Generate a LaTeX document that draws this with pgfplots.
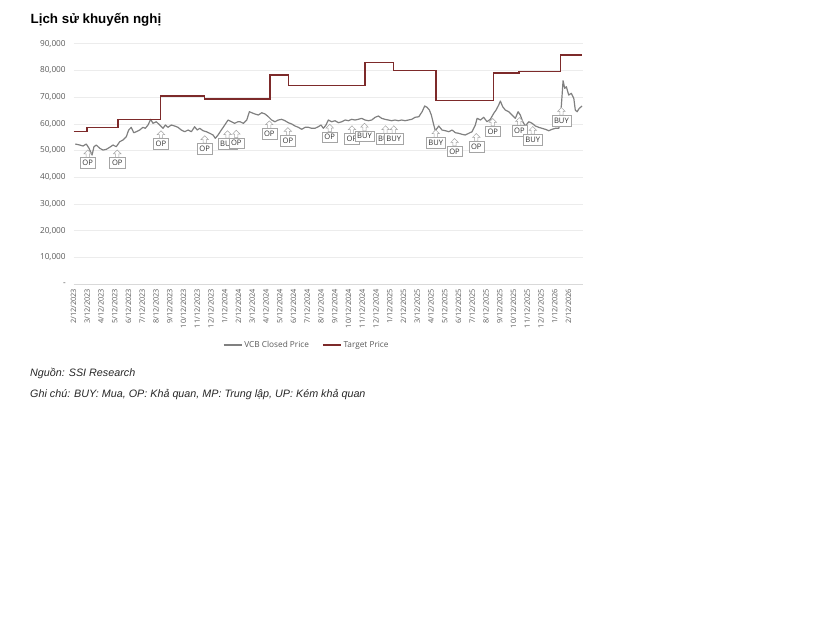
\documentclass[border=0pt]{standalone}
\usepackage{fontspec}
\setmainfont{Open Sans}
\newfontfamily\titlefont{Liberation Sans}
\usepackage{pgfplots}
\pgfplotsset{compat=1.18}
\definecolor{target}{RGB}{125,42,42}
\definecolor{price}{RGB}{128,128,128}
\definecolor{tickc}{RGB}{89,89,89}
\definecolor{gridc}{RGB}{236,236,236}
\definecolor{axisc}{RGB}{217,217,217}
\definecolor{boxc}{RGB}{165,165,165}
\pgfdeclareplotmark{callarrow}{%
  \pgfpathmoveto{\pgfqpoint{0bp}{0bp}}%
  \pgfpathlineto{\pgfqpoint{3.7bp}{-3.8bp}}%
  \pgfpathlineto{\pgfqpoint{1.6bp}{-3.8bp}}%
  \pgfpathlineto{\pgfqpoint{1.6bp}{-7.5bp}}%
  \pgfpathlineto{\pgfqpoint{-1.6bp}{-7.5bp}}%
  \pgfpathlineto{\pgfqpoint{-1.6bp}{-3.8bp}}%
  \pgfpathlineto{\pgfqpoint{-3.7bp}{-3.8bp}}%
  \pgfpathclose
  \pgfusepathqfillstroke}
\begin{document}
\begin{tikzpicture}
\path[use as bounding box] (-73.5bp,-348bp) rectangle (741.5bp,284bp);
\node[anchor=base west, inner sep=0pt, font=\titlefont\bfseries\fontsize{13.4}{16}\selectfont] at (-43bp,260.5bp) {Lịch sử khuyến nghị};
\node[anchor=base west, inner sep=0pt, font=\titlefont\itshape\fontsize{10.8}{12}\selectfont, text=black!85] at (-43.5bp,-92bp) {Nguồn: SSI Research};
\node[anchor=base west, inner sep=0pt, font=\titlefont\itshape\fontsize{10.8}{12}\selectfont, text=black!85] at (-43.5bp,-113bp) {Ghi chú: BUY: Mua, OP: Khả quan, MP: Trung lập, UP: Kém khả quan};
\begin{axis}[
  at={(0bp,0bp)}, anchor=south west,
  scale only axis, width=509.5bp, height=240.3bp,
  xmin=0, xmax=37.05, ymin=0, ymax=90000,
  scaled y ticks=false, scaled x ticks=false,
  axis lines*=left,
  y axis line style={draw=none},
  x axis line style={draw=axisc, line width=0.8bp},
  major tick length=0pt,
  ymajorgrids, grid style={draw=gridc, line width=0.6bp},
  ytick={0,10000,20000,30000,40000,50000,60000,70000,80000,90000},
  yticklabels={{-\hspace{5bp}},{10,000},{20,000},{30,000},{40,000},{50,000},{60,000},{70,000},{80,000},{90,000}},
  yticklabel style={font=\fontsize{8.3}{10}\selectfont, text=tickc, inner xsep=7.8bp, inner ysep=0pt, outer sep=0pt, anchor=east},
  xtick={0,1,...,36},
  xticklabels={2/12/2023,3/12/2023,4/12/2023,5/12/2023,6/12/2023,7/12/2023,8/12/2023,9/12/2023,10/12/2023,11/12/2023,12/12/2023,1/12/2024,2/12/2024,3/12/2024,4/12/2024,5/12/2024,6/12/2024,7/12/2024,8/12/2024,9/12/2024,10/12/2024,11/12/2024,12/12/2024,1/12/2025,2/12/2025,3/12/2025,4/12/2025,5/12/2025,6/12/2025,7/12/2025,8/12/2025,9/12/2025,10/12/2025,11/12/2025,12/12/2025,1/12/2026,2/12/2026},
  xticklabel style={font=\fontsize{7.4}{8}\selectfont, text=tickc, rotate=90, anchor=east, inner xsep=5bp, inner ysep=0pt, outer sep=0pt},
  legend style={at={(0.458,-0.254)}, anchor=center, draw=none, fill=none, font=\fontsize{8.3}{9}\selectfont, text=tickc, legend columns=2, /tikz/every even column/.append style={column sep=11bp}},
  legend image code/.code={\draw[#1] (0bp,0bp) -- (18bp,0bp);},
]
\addplot[price, line width=1.2bp, line join=round] table {
x y
0.13 52430
0.45 52055
0.69 51680
0.93 52430
1.13 50820
1.35 48310
1.49 51420
1.66 52055
1.91 50820
2.15 50180
2.39 50440
2.63 51190
2.87 52055
3.11 51420
3.36 53290
3.60 53930
3.84 55160
4.01 57670
4.20 58680
4.38 56660
4.57 57040
4.81 57670
5.05 58680
5.22 58310
5.42 59550
5.61 61680
5.78 60180
6.02 60780
6.27 59550
6.51 58310
6.68 59550
6.87 58680
7.11 59550
7.36 59170
7.60 58680
7.84 57670
8.09 57040
8.33 57670
8.57 57040
8.81 58910
9.00 57670
9.18 58310
9.42 57410
9.66 57040
9.91 56440
10.15 55800
10.31 54560
10.51 55800
10.75 57670
11.00 59550
11.24 61420
11.48 60780
11.72 60180
11.96 60780
12.11 60780
12.35 60180
12.60 61420
12.79 64530
12.96 64150
13.20 63670
13.44 63290
13.69 64150
13.93 63670
14.17 62650
14.41 61420
14.65 60780
14.89 61420
15.14 61680
15.38 61160
15.62 60410
15.87 59920
16.11 59170
16.35 58680
16.60 57940
16.84 58680
17.08 58680
17.32 58310
17.56 58310
17.80 58910
18.00 59550
18.17 58310
18.36 59550
18.53 61420
18.78 60780
19.02 61160
19.26 60410
19.51 60780
19.75 61420
19.99 61160
20.23 61680
20.47 61420
20.71 61680
20.96 62050
21.20 61420
21.44 61160
21.69 61420
21.93 62430
22.17 62920
22.41 62050
22.65 61680
22.89 61420
23.14 61160
23.38 61420
23.62 61160
23.87 61420
24.11 61160
24.35 61420
24.60 61680
24.84 62430
25.11 62650
25.35 64530
25.54 66660
25.71 66170
25.88 65160
26.02 63290
26.20 59550
26.31 57410
26.44 58310
26.56 59170
26.80 57670
27.04 57410
27.29 57040
27.53 57670
27.77 56660
28.01 56440
28.25 56060
28.49 55800
28.74 56440
28.98 57040
29.22 59550
29.35 62050
29.59 61420
29.83 62430
30.07 60780
30.31 61680
30.56 63930
30.73 65160
30.92 67040
31.04 68530
31.21 66400
31.40 65160
31.65 64530
31.89 63290
32.13 62050
32.33 64530
32.49 63290
32.67 60780
32.86 59170
33.11 60780
33.35 60180
33.59 59170
33.83 58680
34.07 58310
34.31 57940
34.56 57410
34.80 57940
35.04 58310
35.29 58310
35.40 61420
35.53 70780
35.60 76140
35.72 73290
35.84 73890
36.01 70780
36.20 71420
36.38 69550
36.49 65160
36.62 64530
36.78 65800
36.98 66660
};
\addlegendentry{VCB Closed Price}
\addplot[target, line width=1.5bp, const plot] table {
x y
0 57200
0.98 58700
3.24 61600
6.31 70500
9.54 69300
14.29 78300
15.62 74400
21.20 83000
23.26 79900
26.36 68700
30.53 79000
32.38 79500
35.40 85700
36.98 85700
};
\addlegendentry{Target Price}
\addplot[forget plot, only marks, mark=callarrow,
  mark options={draw=boxc, fill=white, line width=0.5bp},
  point meta=explicit symbolic, nodes near coords,
  every node near coord/.append style={draw=boxc, fill=white, line width=0.5bp, anchor=north, yshift=-7.5bp, inner xsep=2.3bp, inner ysep=0pt, minimum height=10.5bp, text height=5.3bp, text depth=0pt, font=\fontsize{7.6}{8}\selectfont, text=black!80}]
  table[meta=label] {
x y label
1.03 50200 OP
3.18 50200 OP
6.36 57400 OP
9.54 55540 OP
11.20 57400 BUY
11.84 57600 OP
14.24 61100 OP
15.59 58600 OP
18.63 59850 OP
20.25 59250 OP
21.16 60200 BUY
22.69 59250 BUY
23.29 59250 BUY
26.34 57750 BUY
27.71 54500 OP
29.29 56360 OP
30.49 62000 OP
32.42 62350 OP
33.40 58980 BUY
35.48 66100 BUY
};
\end{axis}
\end{tikzpicture}
\end{document}
